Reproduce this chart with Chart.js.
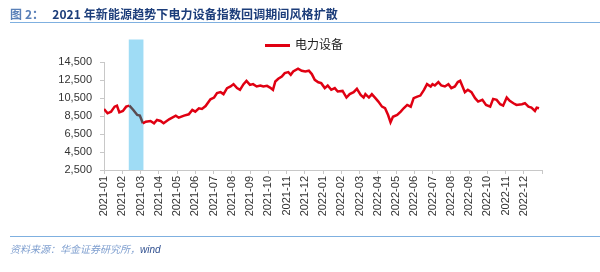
<!DOCTYPE html>
<html>
<head>
<meta charset="utf-8">
<script src="https://cdn.jsdelivr.net/npm/chart.js@4/dist/chart.umd.min.js"></script>
<style>
  body { margin: 0; background: #fff; }
  #wrap { position: relative; width: 600px; height: 272px; overflow: hidden; font-family: "Liberation Sans", Arial, sans-serif; }
  #chart { position: absolute; left: 0; top: 0; }
  .title { position: absolute; left: 10px; top: 5px; font: bold 12px "Noto Sans CJK SC", sans-serif; letter-spacing: 0.1px; color: #1c3d7a; white-space: nowrap; }
  .title .num { color: #5a80b8; margin-right: 8px; }
  .rule { position: absolute; left: 10px; width: 590px; height: 0; border-top: 1.5px solid #7fb0e0; }
  .legend { position: absolute; left: 265px; top: 35px; font: 12px "Noto Sans CJK SC", sans-serif; color: #222; white-space: nowrap; }
  .legend i { display: inline-block; width: 25px; height: 2.5px; background: #e00012; vertical-align: middle; margin-right: 5px; }
  .source { position: absolute; left: 10px; top: 241px; font: italic 10px "Noto Sans CJK SC", sans-serif; color: #7f9fcf; white-space: nowrap; }
  .source b { font-weight: normal; color: #2f4f8f; font-family: "Liberation Sans", Arial, sans-serif; }
</style>
</head>
<body>
<div id="wrap">
  <canvas id="chart" width="600" height="272"></canvas>
  <div class="title"><span class="num">图 2：</span>2021 年新能源趋势下电力设备指数回调期间风格扩散</div>
  <div class="rule" style="top:22px"></div>
  <div class="legend"><i></i>电力设备</div>
  <div class="rule" style="top:236px"></div>
  <div class="source">资料来源：华金证券研究所，<b>wind</b></div>
</div>
<script>
//Series
var seriesName = "电力设备";
var dates = [
  "2021-01-01","2021-01-07","2021-01-13","2021-01-19","2021-01-23","2021-01-27","2021-02-02","2021-02-07",
  "2021-02-12","2021-02-18","2021-02-24","2021-02-28","2021-03-05","2021-03-10","2021-03-18","2021-03-24",
  "2021-03-29","2021-04-04","2021-04-09","2021-04-18","2021-04-29","2021-05-04","2021-05-13","2021-05-21",
  "2021-05-27","2021-06-01","2021-06-07","2021-06-12","2021-06-18","2021-06-26","2021-07-02","2021-07-07",
  "2021-07-13","2021-07-18","2021-07-24","2021-07-30","2021-08-04","2021-08-10","2021-08-15","2021-08-21",
  "2021-08-26","2021-09-01","2021-09-06","2021-09-12","2021-09-18","2021-09-23","2021-09-29","2021-10-04",
  "2021-10-09","2021-10-13","2021-10-18","2021-10-24","2021-10-29","2021-11-04","2021-11-08","2021-11-12",
  "2021-11-20","2021-11-26","2021-12-02","2021-12-08","2021-12-13","2021-12-18","2021-12-24","2021-12-29",
  "2022-01-04","2022-01-09","2022-01-15","2022-01-21","2022-01-26","2022-02-03","2022-02-09","2022-02-14",
  "2022-02-20","2022-02-25","2022-03-03","2022-03-08","2022-03-11","2022-03-17","2022-03-22","2022-03-28",
  "2022-04-02","2022-04-08","2022-04-13","2022-04-18","2022-04-22","2022-04-26","2022-05-03","2022-05-09",
  "2022-05-14","2022-05-20","2022-05-26","2022-05-31","2022-06-06","2022-06-11","2022-06-17","2022-06-22",
  "2022-06-28","2022-07-01","2022-07-05","2022-07-11","2022-07-16","2022-07-22","2022-07-28","2022-08-02",
  "2022-08-08","2022-08-13","2022-08-17","2022-08-21","2022-08-25","2022-08-30","2022-09-05","2022-09-11",
  "2022-09-16","2022-09-23","2022-09-29","2022-10-06","2022-10-11","2022-10-17","2022-10-23","2022-10-28",
  "2022-11-03","2022-11-08","2022-11-14","2022-11-19","2022-11-28","2022-12-03","2022-12-09","2022-12-14",
  "2022-12-20","2022-12-23","2022-12-27"
];
var values = [
  9280, 8800, 8980, 9540, 9650, 8910, 9060, 9540,
  9650, 9170, 8610, 8540, 7690, 7870, 7950, 7690,
  8060, 7950, 7690, 8130, 8540, 8310, 8540, 8690,
  9170, 8980, 9360, 9280, 9600, 10350, 10550, 11040,
  11150, 10930, 11600, 11780, 12040, 11600, 11410, 12040,
  12410, 11960, 12040, 11780, 11890, 11780, 11850, 11660,
  11410, 12330, 12630, 12890, 13270, 13380, 13080, 13450,
  13750, 13530, 13450, 13530, 13160, 12520, 12250, 12150,
  11600, 11890, 11410, 11600, 11220, 11290, 10550, 10930,
  11150, 11520, 10850, 10550, 10930, 10550, 10930, 10480,
  10100, 9540, 9360, 8610, 7800, 8420, 8610, 8980,
  9360, 9730, 9540, 10480, 10660, 10770, 11410, 12040,
  11780, 12040, 11890, 12270, 11890, 11780, 12040, 11600,
  11780, 12270, 12410, 11780, 11150, 11410, 11150, 10480,
  10100, 10290, 9730, 9540, 10400, 10290, 9810, 9650,
  10550, 10180, 9920, 9730, 9810, 9920, 9540, 9430,
  9060, 9430, 9360
];
var monthLabels = [
  "2021-01","2021-02","2021-03","2021-04","2021-05","2021-06","2021-07","2021-08","2021-09","2021-10","2021-11","2021-12",
  "2022-01","2022-02","2022-03","2022-04","2022-05","2022-06","2022-07","2022-08","2022-09","2022-10","2022-11","2022-12"
];
var yMin = 2500;
var yMax = 14500;
var yStep = 2000;
//Shaded pullback window
var shadeStart = "2021-02-11";
var shadeEnd = "2021-03-06";
var shadeTop = 17000;

//Turn a date string into a month position (2021-01-01 = 0)
var monthPos = function(str) {
  var p = str.split("-").map(Number);
  var dim = new Date(p[0], p[1], 0).getDate();
  return (p[0] - 2021) * 12 + (p[1] - 1) + (p[2] - 1) / dim;
}

var points = [];
for (var i = 0; i < dates.length; i++) {
  points.push({ x: monthPos(dates[i]), y: values[i] });
}
var shadeX0 = monthPos(shadeStart);
var shadeX1 = monthPos(shadeEnd);

var shadePlugin = {
  id: 'shade',
  beforeDatasetsDraw: function(chart) {
    var ctx = chart.ctx;
    var x0 = chart.scales.x.getPixelForValue(shadeX0);
    var x1 = chart.scales.x.getPixelForValue(shadeX1);
    var top = chart.scales.y.getPixelForValue(shadeTop);
    var bottom = chart.scales.y.getPixelForValue(yMin);
    ctx.save();
    ctx.fillStyle = '#9fdcf5';
    ctx.fillRect(x0, top, x1 - x0, bottom - top);
    ctx.restore();
  }
}

var ctx = document.getElementById('chart').getContext('2d');
var myChart = new Chart(ctx, {
  type: 'line',
  data: {
    datasets: [{
      label: seriesName,
      data: points,
      borderColor: '#e00012',
      borderWidth: 2.5,
      pointRadius: 0,
      tension: 0,
      segment: {
        borderColor: function(c) {
          if (c.p0.parsed.x >= shadeX0 - 0.05 && c.p1.parsed.x <= shadeX1 + 0.1) return '#5b4b50';
          return undefined;
        }
      }
    }]
  },
  options: {
    responsive: false,
    animation: false,
    layout: { padding: { left: 0, top: 62, right: 58, bottom: 0 } },
    plugins: { legend: { display: false }, tooltip: { enabled: false } },
    scales: {
      x: {
        type: 'linear',
        min: 0,
        max: 24,
        afterFit: function(s) { s.height = 102; },
        border: { color: '#c8c8c8', width: 1 },
        grid: { drawOnChartArea: false, drawTicks: true, tickLength: 4, color: '#c8c8c8' },
        ticks: {
          stepSize: 1,
          autoSkip: false,
          minRotation: 90,
          maxRotation: 90,
          padding: 2,
          color: '#333',
          font: { family: '"Liberation Sans", Arial, sans-serif', size: 11 },
          callback: function(v) { return monthLabels[v] || ''; }
        }
      },
      y: {
        min: yMin,
        max: yMax,
        afterFit: function(s) { s.width = 104; },
        border: { color: '#c8c8c8', width: 1 },
        grid: { drawOnChartArea: false, drawTicks: true, tickLength: 4, color: '#c8c8c8' },
        ticks: {
          stepSize: yStep,
          padding: 8,
          color: '#333',
          font: { family: '"Liberation Sans", Arial, sans-serif', size: 11 },
          callback: function(v) { return v.toLocaleString('en-US'); }
        }
      }
    }
  },
  plugins: [shadePlugin]
});
</script>
</body>
</html>
